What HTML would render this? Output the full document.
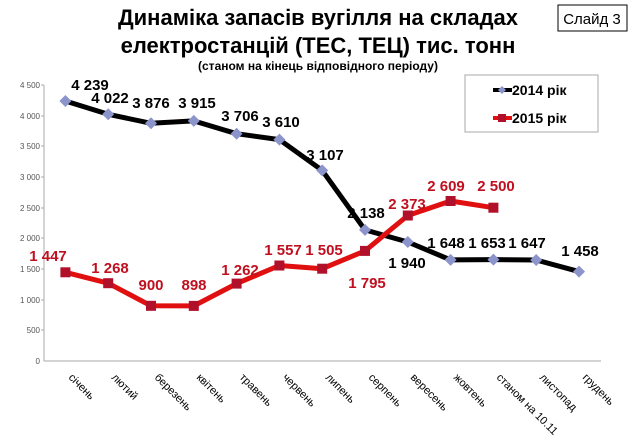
<!DOCTYPE html><html><head><meta charset="utf-8"><style>body{margin:0;background:#fff}svg{display:block}</style></head><body>
<svg width="638" height="442" xmlns="http://www.w3.org/2000/svg" font-family="Liberation Sans, sans-serif">
<text x="318" y="25" text-anchor="middle" font-size="22" font-weight="bold">Динаміка запасів вугілля на складах</text>
<text x="318" y="53" text-anchor="middle" font-size="22" font-weight="bold">електростанцій (ТЕС, ТЕЦ) тис. тонн</text>
<text x="318" y="70" text-anchor="middle" font-size="12" font-weight="bold">(станом на кінець відповідного періоду)</text>
<rect x="558" y="5" width="69" height="26" fill="none" stroke="#000" stroke-width="1"/>
<text x="592" y="24" text-anchor="middle" font-size="15">Слайд 3</text>
<g font-size="8" fill="#555" text-anchor="end">
<text x="40" y="364">0</text><text x="40" y="333">500</text><text x="40" y="303">1 000</text><text x="40" y="272">1 500</text><text x="40" y="241">2 000</text><text x="40" y="211">2 500</text><text x="40" y="180">3 000</text><text x="40" y="149">3 500</text><text x="40" y="119">4 000</text><text x="40" y="88">4 500</text>
</g>
<g stroke="#aaa" stroke-width="1">
<line x1="44" y1="85" x2="44" y2="361"/><line x1="44" y1="361" x2="601" y2="361"/>
<line x1="41" y1="85" x2="44" y2="85"/><line x1="41" y1="116" x2="44" y2="116"/><line x1="41" y1="146" x2="44" y2="146"/><line x1="41" y1="177" x2="44" y2="177"/><line x1="41" y1="208" x2="44" y2="208"/><line x1="41" y1="238" x2="44" y2="238"/><line x1="41" y1="269" x2="44" y2="269"/><line x1="41" y1="300" x2="44" y2="300"/><line x1="41" y1="330" x2="44" y2="330"/>
</g>
<g font-size="11" fill="#000">
<text transform="translate(68,378) rotate(45)">січень</text>
<text transform="translate(111,378) rotate(45)">лютий</text>
<text transform="translate(154,378) rotate(45)">березень</text>
<text transform="translate(196,378) rotate(45)">квітень</text>
<text transform="translate(239,378) rotate(45)">травень</text>
<text transform="translate(282,378) rotate(45)">червень</text>
<text transform="translate(325,378) rotate(45)">липень</text>
<text transform="translate(368,378) rotate(45)">серпень</text>
<text transform="translate(410,378) rotate(45)">вересень</text>
<text transform="translate(453,378) rotate(45)">жовтень</text>
<text transform="translate(496,378) rotate(45)">станом на 10.11</text>
<text transform="translate(539,378) rotate(45)">листопад</text>
<text transform="translate(582,378) rotate(45)">грудень</text>
</g>
<polyline fill="none" stroke="#000" stroke-width="5" stroke-linejoin="round" points="65.4,101 108.2,114.3 151,123.3 193.8,120.9 236.6,133.7 279.4,139.6 322.2,170.4 365,229.9 407.8,242 450.6,259.9 493.4,259.6 536.2,260 579,271.6"/>
<g fill="#8c94cc">
<path d="M65.4,95l6,6l-6,6l-6,-6z"/><path d="M108.2,108.3l6,6l-6,6l-6,-6z"/><path d="M151,117.3l6,6l-6,6l-6,-6z"/><path d="M193.8,114.9l6,6l-6,6l-6,-6z"/><path d="M236.6,127.7l6,6l-6,6l-6,-6z"/><path d="M279.4,133.6l6,6l-6,6l-6,-6z"/><path d="M322.2,164.4l6,6l-6,6l-6,-6z"/><path d="M365,223.9l6,6l-6,6l-6,-6z"/><path d="M407.8,236l6,6l-6,6l-6,-6z"/><path d="M450.6,253.9l6,6l-6,6l-6,-6z"/><path d="M493.4,253.6l6,6l-6,6l-6,-6z"/><path d="M536.2,254l6,6l-6,6l-6,-6z"/><path d="M579,265.6l6,6l-6,6l-6,-6z"/>
</g>
<polyline fill="none" stroke="#e01010" stroke-width="5" stroke-linejoin="round" points="65.4,272.3 108.2,283.2 151,305.8 193.8,305.9 236.6,283.6 279.4,265.5 322.2,268.7 365,250.9 407.8,215.5 450.6,201 493.4,207.7"/>
<g fill="#b0102a">
<rect x="60.4" y="267.3" width="10" height="10"/><rect x="103.2" y="278.2" width="10" height="10"/><rect x="146" y="300.8" width="10" height="10"/><rect x="188.8" y="300.9" width="10" height="10"/><rect x="231.6" y="278.6" width="10" height="10"/><rect x="274.4" y="260.5" width="10" height="10"/><rect x="317.2" y="263.7" width="10" height="10"/><rect x="360" y="245.9" width="10" height="10"/><rect x="402.8" y="210.5" width="10" height="10"/><rect x="445.6" y="196" width="10" height="10"/><rect x="488.4" y="202.7" width="10" height="10"/>
</g>
<g font-size="15" font-weight="bold" text-anchor="middle" fill="#000">
<text x="90" y="90">4 239</text><text x="110" y="103">4 022</text><text x="151" y="108">3 876</text><text x="197" y="108">3 915</text><text x="240" y="121">3 706</text><text x="281" y="127">3 610</text><text x="325" y="160">3 107</text><text x="366" y="218">2 138</text><text x="407" y="268">1 940</text><text x="446" y="248">1 648</text><text x="487" y="248">1 653</text><text x="527" y="248">1 647</text><text x="580" y="256">1 458</text>
</g>
<g font-size="15" font-weight="bold" text-anchor="middle" fill="#c01020">
<text x="48" y="261">1 447</text><text x="110" y="273">1 268</text><text x="151" y="290">900</text><text x="194" y="290">898</text><text x="240" y="275">1 262</text><text x="283" y="255">1 557</text><text x="324" y="255">1 505</text><text x="367" y="288">1 795</text><text x="407" y="209">2 373</text><text x="446" y="191">2 609</text><text x="496" y="191">2 500</text>
</g>
<rect x="465" y="75" width="133" height="57" fill="#fff" stroke="#aaa"/>
<line x1="493" y1="90" x2="512" y2="90" stroke="#000" stroke-width="4"/><path d="M502,86l4,4l-4,4l-4,-4z" fill="#8c94cc"/>
<text x="512" y="95" font-size="14" font-weight="bold">2014 рік</text>
<line x1="493" y1="118" x2="512" y2="118" stroke="#e01010" stroke-width="4"/><rect x="498" y="114" width="8" height="8" fill="#b0102a"/>
<text x="512" y="123" font-size="14" font-weight="bold">2015 рік</text>
</svg>
</body></html>
